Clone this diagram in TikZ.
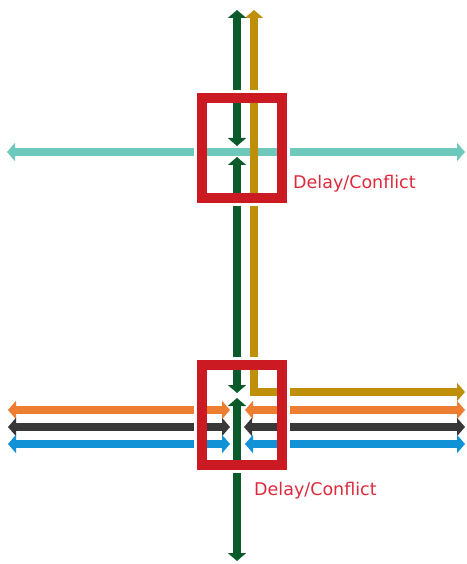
\documentclass[tikz,border=0pt]{standalone}
\usepackage{fontspec}
\setmainfont{DejaVu Sans}
\usetikzlibrary{arrows.meta}
\definecolor{routegreen}{HTML}{0B5A2C}
\definecolor{routegold}{HTML}{BF8F0A}
\definecolor{routeteal}{HTML}{6EC8BC}
\definecolor{routeorange}{HTML}{ED7D31}
\definecolor{routedark}{HTML}{383838}
\definecolor{routeblue}{HTML}{1292D6}
\definecolor{conflictred}{HTML}{CC1A22}
\definecolor{labelred}{HTML}{DC2A3C}
\begin{document}
\begin{tikzpicture}[x=1pt,y=-1pt,
  route/.style={line width=8pt,
    {Triangle[width=18pt,length=8pt]}-{Triangle[width=18pt,length=8pt]}},
  plain/.style={line width=8pt},
  zonegap/.style={draw=white,line width=13pt},
  zone/.style={draw=conflictred,line width=10pt},
  conflictlabel/.style={anchor=base west,text=labelred,font=\fontsize{17.5}{20}\selectfont,inner sep=0pt}]
\useasboundingbox (0,0) rectangle (466,564);

% end points of the routes
\coordinate (tealW) at (7,152);
\coordinate (tealE) at (465,152);
\coordinate (goldN) at (254,10);
\coordinate (goldBend) at (254,392);
\coordinate (goldE) at (465,392);
\coordinate (orW) at (8,410);   \coordinate (orIn) at (230,410);
\coordinate (orIn2) at (245,410); \coordinate (orE) at (465,410);
\coordinate (dkW) at (8,427);   \coordinate (dkIn) at (230,427);
\coordinate (dkIn2) at (244,427); \coordinate (dkE) at (465,427);
\coordinate (blW) at (8,444);   \coordinate (blIn) at (230,444);
\coordinate (blIn2) at (245,444); \coordinate (blE) at (465,444);
\coordinate (grN) at (237,10);  \coordinate (grA) at (237,146);
\coordinate (grB) at (237,157); \coordinate (grC) at (237,393);
\coordinate (grD) at (237,398); \coordinate (grS) at (237,561);

% routes
\draw[route,routeteal] (tealW) -- (tealE);
\draw[route,routegold] (goldN) -- (goldBend) -- (goldE);
\draw[route,routeorange] (orW) -- (orIn);
\draw[route,routeorange] (orIn2) -- (orE);
\draw[route,routedark] (dkW) -- (dkIn);
\draw[route,routedark] (dkIn2) -- (dkE);
\draw[route,routeblue] (blW) -- (blIn);
\draw[route,routeblue] (blIn2) -- (blE);
\draw[route,routegreen] (grN) -- (grA);
\draw[route,routegreen] (grB) -- (grC);
\draw[route,routegreen] (grD) -- (grS);

% conflict zones
\draw[zonegap] (200.5,96.5) rectangle (283.5,199.5);
\draw[zone] (202,98) rectangle (282,198);
\draw[zonegap] (200.5,363.5) rectangle (283.5,466.5);
\draw[zone] (202,365) rectangle (282,465);

\node[conflictlabel] (lblTop) at (293,188) {Delay/Conflict};
\node[conflictlabel] (lblBot) at (254,495) {Delay/Conflict};
\end{tikzpicture}
\end{document}
